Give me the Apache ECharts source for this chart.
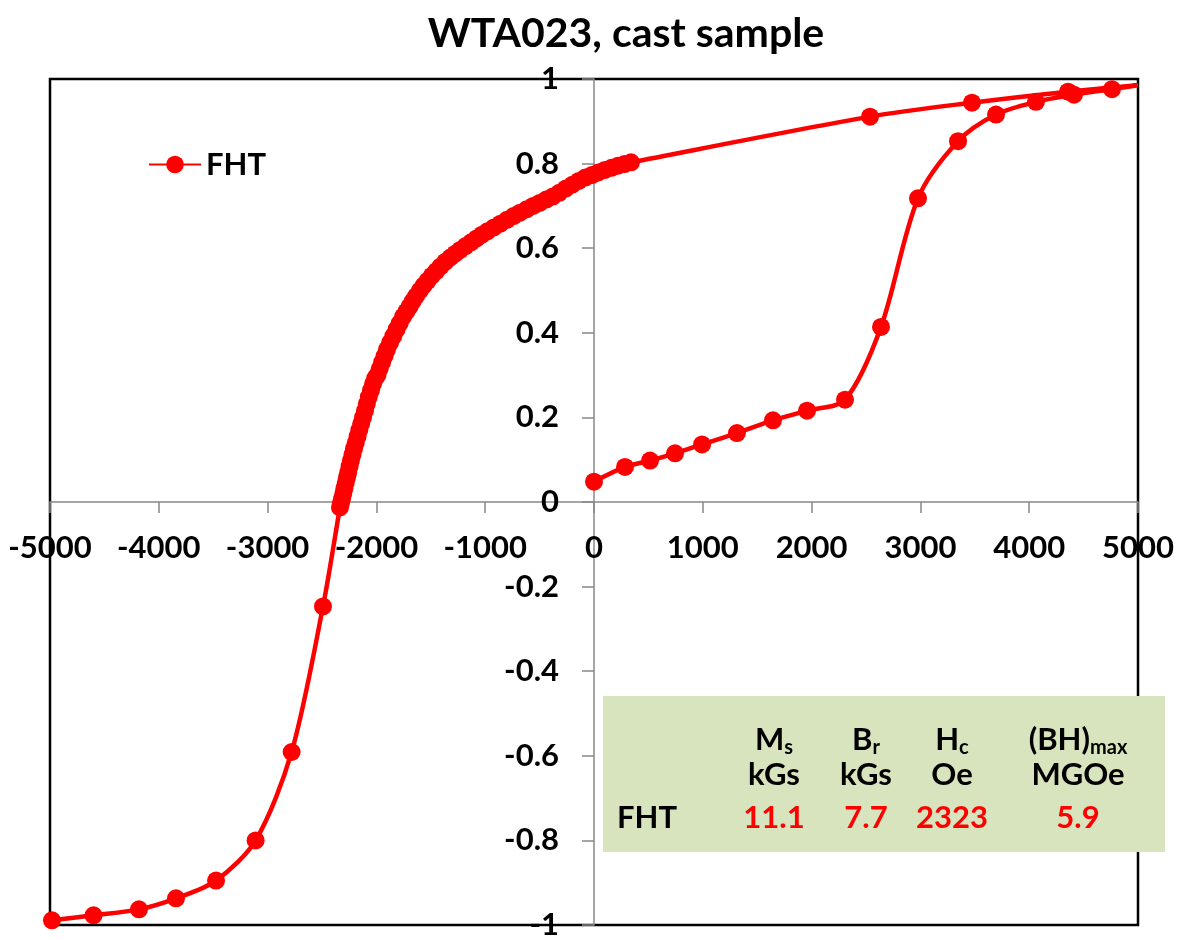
<!DOCTYPE html>
<html>
<head>
<meta charset="utf-8">
<script src="https://cdn.jsdelivr.net/npm/echarts@6/dist/echarts.min.js"></script>
<style>
  html, body { margin: 0; padding: 0; background: #fff; }
  #chart { width: 1178px; height: 940px; }
</style>
</head>
<body>
<div id="chart"></div>
<script>
// field H (Oe) and normalised magnetisation, initial curve going up to +5000
const risingH = [0, 285, 515, 745, 993, 1314, 1645, 1958, 2307, 2638, 2978, 3346, 3695, 4062, 4412, 4761, 5000];
const risingM = [0.048, 0.083, 0.098, 0.115, 0.136, 0.163, 0.193, 0.216, 0.242, 0.414, 0.718, 0.853, 0.916, 0.946, 0.963, 0.976, 0.985];

// descending branch from +5000 down to -5000
const fallingH = [4357, 3474, 2537,
  340, 280, 220, 160, 100, 40, -20, -80, -140, -200, -260, -320, -380, -440, -500, -560, -620, -680, -740, -800, -860, -920, -980,
  -1030, -1080, -1130, -1180, -1230, -1275, -1320, -1365, -1410, -1450, -1490, -1530, -1565, -1600, -1635, -1665, -1695, -1725, -1755,
  -1785, -1815, -1845, -1875, -1903, -1925, -1948, -1970, -1990, -2010, -2031, -2050, -2070, -2088, -2105, -2123, -2140, -2157,
  -2173, -2190, -2206, -2220, -2234, -2247, -2259, -2270, -2282, -2294, -2305, -2316, -2326, -2335,
  -2491, -2779, -3110, -3474, -3842, -4182, -4600, -4982];
const fallingM = [0.970, 0.944, 0.911,
  0.803, 0.799, 0.795, 0.790, 0.785, 0.779, 0.773, 0.767, 0.759, 0.750, 0.741, 0.731, 0.722, 0.715, 0.707, 0.700, 0.692, 0.684, 0.676, 0.667, 0.658, 0.649, 0.640,
  0.632, 0.623, 0.614, 0.605, 0.596, 0.587, 0.578, 0.568, 0.557, 0.546, 0.535, 0.523, 0.512, 0.500, 0.487, 0.475, 0.462, 0.450, 0.438,
  0.423, 0.408, 0.392, 0.376, 0.360, 0.345, 0.330, 0.315, 0.300, 0.293, 0.279, 0.264, 0.248, 0.232, 0.216, 0.200, 0.185, 0.170,
  0.155, 0.140, 0.126, 0.112, 0.098, 0.084, 0.070, 0.058, 0.045, 0.032, 0.019, 0.007, -0.003, -0.013,
  -0.247, -0.591, -0.800, -0.895, -0.937, -0.963, -0.977, -0.989];

// summary table
const tableCols = ["{m|M}{s|s}", "{m|B}{s|r}", "{m|H}{s|c}", "{m|(BH)}{s|max}"];
const tableUnits = ["kGs", "kGs", "Oe", "MGOe"];
const tableRowName = "FHT";
const tableValues = ["11.1", "7.7", "2323", "5.9"];

const FONT = "Lato";
const RED = "#ff0000";

let points = [];
for (let i = 0; i < risingH.length; i++) {
  if (risingH[i] === 5000) {
    points.push({ value: [risingH[i], risingM[i]], symbol: "none" });
  } else {
    points.push([risingH[i], risingM[i]]);
  }
}
for (let i = 0; i < fallingH.length; i++) {
  points.push([fallingH[i], fallingM[i]]);
}

// table graphics
const colX = [774, 866, 952, 1078];
let tableGraphics = [
  {
    type: "rect",
    shape: { x: 603, y: 696, width: 562, height: 156 },
    style: { fill: "#d7e4bd" },
    z: 10,
  },
];
const richSub = {
  m: { fontFamily: FONT, fontWeight: "bold", fontSize: 31, color: "#000", lineHeight: 36 },
  s: { fontFamily: FONT, fontWeight: "bold", fontSize: 20, color: "#000", lineHeight: 36, verticalAlign: "bottom", padding: [10, 0, 0, 0] },
};
const cellStyle = { fontFamily: FONT, fontWeight: "bold", fontSize: 31, align: "center", verticalAlign: "middle" };
for (let i = 0; i < tableCols.length; i++) {
  tableGraphics.push({
    type: "text",
    x: colX[i], y: 740, z: 11,
    style: { text: tableCols[i], rich: richSub, align: "center", verticalAlign: "middle" },
  });
  tableGraphics.push({
    type: "text",
    x: colX[i], y: 775, z: 11,
    style: Object.assign({ text: tableUnits[i], fill: "#000" }, cellStyle),
  });
  tableGraphics.push({
    type: "text",
    x: colX[i], y: 818, z: 11,
    style: Object.assign({ text: tableValues[i], fill: RED }, cellStyle),
  });
}
tableGraphics.push({
  type: "text",
  x: 647, y: 818, z: 11,
  style: Object.assign({ text: tableRowName, fill: "#000" }, cellStyle),
});

let myChart = echarts.init(document.getElementById("chart"));
let option = {
  animation: false,
  backgroundColor: "#fff",
  title: {
    text: "WTA023, cast sample",
    left: 621,
    textAlign: "center",
    top: 8,
    textStyle: { fontFamily: FONT, fontWeight: "bold", fontSize: 41, color: "#000" },
  },
  legend: {
    left: 143,
    top: 144,
    itemWidth: 52,
    itemHeight: 22,
    itemGap: 5,
    textStyle: { fontFamily: FONT, fontWeight: "bold", fontSize: 31, color: "#000" },
    data: ["FHT"],
  },
  grid: {
    left: 50,
    right: 40,
    top: 79,
    bottom: 15,
    show: true,
    borderColor: "#000",
    borderWidth: 2.5,
    containLabel: false,
    outerBoundsMode: "none",
  },
  // axes are shifted into the plot so they cross at the origin
  xAxis: {
    type: "value",
    min: -5000,
    max: 5000,
    interval: 1000,
    position: "bottom",
    offset: -423,
    axisLine: { onZero: false, lineStyle: { color: "#888", width: 1.5 } },
    axisTick: { show: true, length: 11, lineStyle: { color: "#888", width: 1.5 } },
    axisLabel: {
      margin: 30,
      fontFamily: FONT, fontWeight: "bold", fontSize: 31, color: "#000",
      formatter: (v) => String(v),
    },
    splitLine: { show: false },
  },
  yAxis: {
    type: "value",
    min: -1,
    max: 1,
    interval: 0.2,
    position: "left",
    offset: -544,
    axisLine: { onZero: false, lineStyle: { color: "#888", width: 1.5 } },
    axisTick: { show: true, length: 12, lineStyle: { color: "#888", width: 1.5 } },
    axisLabel: {
      margin: 35,
      fontFamily: FONT, fontWeight: "bold", fontSize: 31, color: "#000",
      formatter: (v) => String(Math.round(v * 10) / 10),
    },
    splitLine: { show: false },
  },
  graphic: tableGraphics,
  series: [
    {
      name: "FHT",
      type: "line",
      smooth: 0.3,
      symbol: "circle",
      symbolSize: 18,
      color: RED,
      lineStyle: { color: RED, width: 4.5 },
      itemStyle: { color: RED },
      data: points,
    },
  ],
};
myChart.setOption(option);
</script>
</body>
</html>
